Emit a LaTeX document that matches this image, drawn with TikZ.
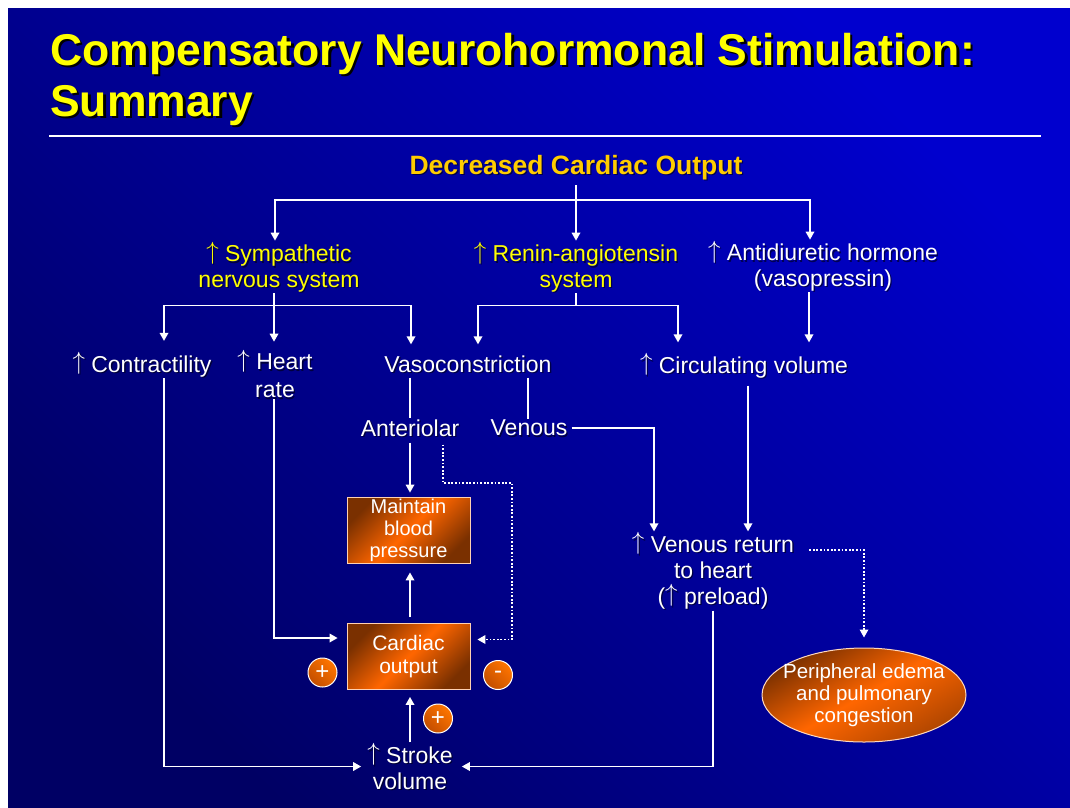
\documentclass[tikz,border=0pt]{standalone}
\usepackage{fontspec}
\setmainfont{Liberation Sans}
\usetikzlibrary{arrows.meta,shapes.geometric}
\definecolor{bgdark}{HTML}{000064}
\definecolor{bgbright}{HTML}{0000CE}
\definecolor{corg}{HTML}{FF6600}
\definecolor{cbrn}{HTML}{7A3000}
\definecolor{cyel}{HTML}{FFFF00}
\definecolor{cgold}{HTML}{FFCC00}
\newcommand\up{\raisebox{0.12em}{$\uparrow$}}
\newcommand\shnode[4]{%
  \node[#3,text=black,opacity=.55] (#1-sh) at ([xshift=1.3pt,yshift=-1.3pt]#2) {#4};
  \node[#3] (#1) at (#2) {#4};}
\begin{document}
\begin{tikzpicture}[x=1pt,y=-1pt,
  ln/.style={draw=white, line width=1.7pt},
  arr/.style={ln, -{Triangle[length=8pt,width=8.5pt]}},
  dotln/.style={ln, dash pattern=on 1.8pt off 1.8pt},
  dotarr/.style={dotln, -{Triangle[length=8pt,width=8.5pt]}},
  lab/.style={text=white, font=\fontsize{23}{25.5}\selectfont, align=center, inner sep=1pt},
  ylab/.style={lab, text=cyel},
  title/.style={font=\fontsize{44.5}{50}\selectfont\bfseries, inner sep=0pt, anchor=base west},
  box/.style={draw=white!70!corg, line width=0.8pt, top color=cbrn, bottom color=cbrn, middle color=corg, shading angle=45, minimum width=123pt, minimum height=66pt, inner sep=0pt, text=white, align=center},
  ell/.style={ellipse, draw=white!75!corg, line width=1pt, top color=cbrn, bottom color=cbrn!60!corg, middle color=corg, shading angle=30, minimum width=204pt, minimum height=94pt, inner sep=0pt},
  elltext/.style={text=white, align=center, inner sep=0pt, font=\fontsize{20.5}{22}\selectfont},
  pm/.style={circle, draw=white, line width=1pt, top color=corg!90!yellow, bottom color=cbrn!45!corg, shading angle=-45, minimum size=29pt, inner sep=0pt, text=white, font=\fontsize{24}{24}\selectfont}
]
\useasboundingbox (0,0) rectangle (1070,807);
\fill[white] (0,0) rectangle (1070,807);
\shade[top color=bgbright, bottom color=bgdark, shading angle=-45] (8,8) rectangle (1070,807);

% title
\node[title, text=black] (t1-sh) at (52.5,67.5) {Compensatory Neurohormonal Stimulation:};
\node[title, text=cyel] (t1) at (50,65) {Compensatory Neurohormonal Stimulation:};
\node[title, text=black] (t2-sh) at (52.5,118.5) {Summary};
\node[title, text=cyel] (t2) at (50,116) {Summary};
\draw[white, line width=1.2pt] (49,136) -- (1041,136);

% labels
\shnode{dco}{576,167.5}{lab, text=cgold, font=\fontsize{26.5}{30}\selectfont\bfseries}{Decreased Cardiac Output}
\shnode{sym}{279,267}{ylab}{\up\ Sympathetic\\nervous system}
\shnode{ras}{576,267}{ylab}{\up\ Renin-angiotensin\\system}
\shnode{adh}{823,266}{lab}{\up\ Antidiuretic hormone\\(vasopressin)}
\shnode{con}{142,364.5}{lab}{\up\ Contractility}
\shnode{hr}{275,374}{lab, font=\fontsize{23}{28}\selectfont}{\up\ Heart\\rate}
\shnode{vaso}{468,364}{lab}{Vasoconstriction}
\shnode{circ}{744,366}{lab}{\up\ Circulating volume}
\shnode{ant}{410,428}{lab}{Anteriolar}
\shnode{ven}{529,428}{lab}{Venous}
\shnode{vr}{713,571}{lab, font=\fontsize{23}{26}\selectfont}{\up\ Venous return\\to heart\\(\up\ preload)}
\shnode{sv}{410,766.5}{lab}{\up\ Stroke\\volume}

% boxes
\node[box, font=\fontsize{20}{22}\selectfont] (mbp) at (408.5,530) {Maintain\\blood\\pressure};
\node[box, font=\fontsize{21}{22.5}\selectfont] (co) at (408.5,656.5) {Cardiac\\output};
\node[ell] (ede) at (864,695) {};
\node[elltext] (ede-t) at (ede.center) {Peripheral edema\\and pulmonary\\congestion};
\node[pm] (pl1) at (322.5,672.5) {+};
\node[pm] (mi) at (498,675) {-};
\node[pm] (pl2) at (438,718.5) {+};

% connectors
\draw[arr, shorten <=4pt] (dco.south) -- (ras.north);
\coordinate (jt) at (576,200);
\draw[arr] (jt) -| ([xshift=-4pt]sym.north);
\draw[arr] (jt) -| ([xshift=-13pt]adh.north);
\coordinate (js) at (274,305.5);
\draw[ln] ([xshift=-5pt]sym.south) -- (js);
\draw[arr, shorten >=10pt] (js) -| ([xshift=22pt]con.north);
\draw[arr, shorten >=7pt] (js) -- (js |- hr.north);
\draw[arr, shorten >=10pt] (js) -| ([xshift=-57pt]vaso.north);
\coordinate (jr) at (576,305.5);
\draw[ln] (ras.south) -- (jr);
\draw[arr, shorten >=10pt] (jr) -| ([xshift=10pt]vaso.north);
\draw[arr, shorten >=10pt] (jr) -| ([xshift=-66pt]circ.north);
\draw[arr, shorten >=10pt] ([xshift=-14pt]adh.south) -- ([xshift=65pt]circ.north);
\draw[ln, shorten <=4pt] ([xshift=-58pt]vaso.south) -- (ant.north);
\draw[ln, shorten <=4pt] ([xshift=60pt]vaso.south) -- ([xshift=-1pt]ven.north);
\draw[arr, shorten <=3pt] (ven.east) -| ([xshift=-59pt]vr.north);
\draw[arr, shorten <=6pt] ([xshift=4pt]circ.south) -- ([xshift=35pt]vr.north);
\draw[dotarr] ([xshift=14pt,yshift=21pt]vr.east) -| ([yshift=10pt]ede.north);
\draw[arr, shorten <=5pt, shorten >=4pt] (ant.south) -- (ant.south |- mbp.north);
\draw[dotarr] ([xshift=33pt,yshift=-7pt]ant.south) |- (512,483) |- ([xshift=7pt,yshift=17pt]co.east);
\draw[arr, shorten <=6pt, shorten >=9pt] (ant.south |- co.north) -- (ant.south |- mbp.south);
\draw[arr, shorten >=7pt] (sv.north) -- (sv.north |- co.south);
\draw[arr] ([xshift=-1pt]hr.south) |- ([xshift=-9pt,yshift=18.5pt]co.west);
\draw[arr] ([xshift=22pt]con.south) |- ([xshift=-5pt]sv.west);
\draw[arr] (vr.south) |- ([xshift=8pt]sv.east);
\end{tikzpicture}
\end{document}
